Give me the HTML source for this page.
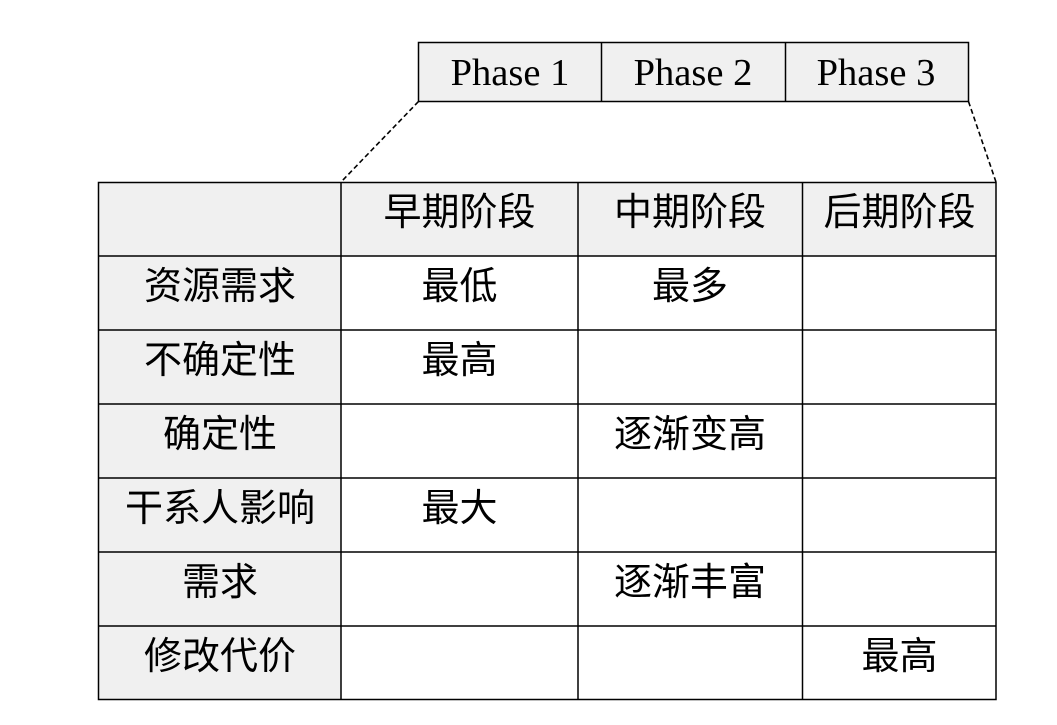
<!DOCTYPE html>
<html><head><meta charset="utf-8"><style>
html,body{margin:0;padding:0;background:#fff;}
svg{display:block;}
.c{font-family:"Liberation Sans","Noto Sans CJK SC",sans-serif;font-size:38px;fill:#000;}
.p{font-family:"Liberation Serif",serif;font-size:38.5px;fill:#000;}
</style></head><body>
<svg width="1057" height="725" viewBox="0 0 1057 725" xmlns="http://www.w3.org/2000/svg">
<rect x="418.5" y="42.5" width="550" height="59" fill="#f0f0f0" stroke="#000" stroke-width="1.5"/>
<line x1="601.5" y1="42.5" x2="601.5" y2="101.5" stroke="#000" stroke-width="1.5"/>
<line x1="785.5" y1="42.5" x2="785.5" y2="101.5" stroke="#000" stroke-width="1.5"/>
<text class="p" x="510" y="85" text-anchor="middle">Phase 1</text>
<text class="p" x="693" y="85" text-anchor="middle">Phase 2</text>
<text class="p" x="876" y="85" text-anchor="middle">Phase 3</text>
<line x1="418.5" y1="101.5" x2="341" y2="182" stroke="#000" stroke-width="1.6" stroke-dasharray="5,3"/>
<line x1="968.5" y1="101.5" x2="996" y2="182" stroke="#000" stroke-width="1.6" stroke-dasharray="5,3"/>
<rect x="98.5" y="182.5" width="898" height="74" fill="#f0f0f0"/>
<rect x="98.5" y="182.5" width="243" height="517" fill="#f0f0f0"/>
<g stroke="#000" stroke-width="1.5" fill="none">
<rect x="98.5" y="182.5" width="897.5" height="517"/>
<line x1="341" y1="182.5" x2="341" y2="699.5"/>
<line x1="578" y1="182.5" x2="578" y2="699.5"/>
<line x1="802.5" y1="182.5" x2="802.5" y2="699.5"/>
<line x1="98.5" y1="256" x2="996" y2="256"/>
<line x1="98.5" y1="330" x2="996" y2="330"/>
<line x1="98.5" y1="404" x2="996" y2="404"/>
<line x1="98.5" y1="478" x2="996" y2="478"/>
<line x1="98.5" y1="552" x2="996" y2="552"/>
<line x1="98.5" y1="626" x2="996" y2="626"/>
</g>
<g class="c" text-anchor="middle" dominant-baseline="central">
<text x="459.5" y="213">早期阶段</text>
<text x="690" y="213">中期阶段</text>
<text x="899.5" y="213">后期阶段</text>
<text x="220" y="287">资源需求</text>
<text x="459.5" y="287">最低</text>
<text x="690" y="287">最多</text>
<text x="220" y="361">不确定性</text>
<text x="459.5" y="361">最高</text>
<text x="220" y="435">确定性</text>
<text x="690" y="435">逐渐变高</text>
<text x="220" y="509">干系人影响</text>
<text x="459.5" y="509">最大</text>
<text x="220" y="583">需求</text>
<text x="690" y="583">逐渐丰富</text>
<text x="220" y="657">修改代价</text>
<text x="899.5" y="657">最高</text>
</g>
</svg>
</body></html>
